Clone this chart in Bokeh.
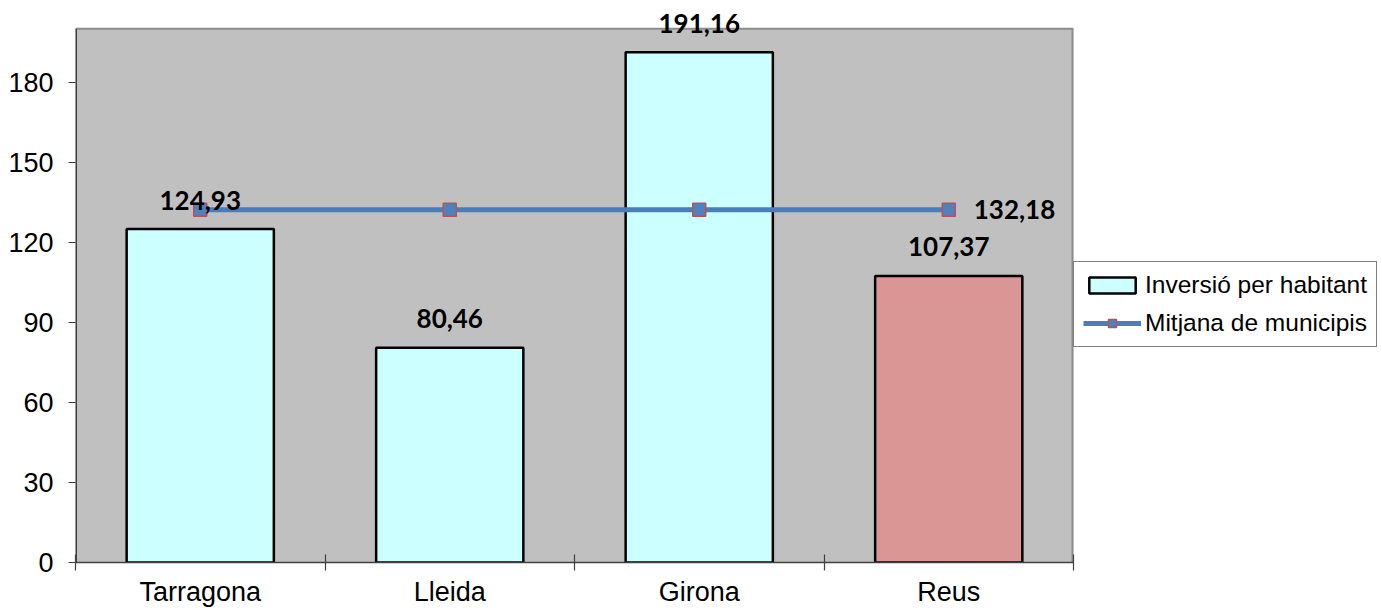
from bokeh.plotting import figure
from bokeh.models import (ColumnDataSource, FixedTicker, Range1d, Legend, LegendItem, LabelSet)
from bokeh.core.properties import value
from bokeh.embed import file_html
from bokeh.resources import INLINE

# ---- data ----
categories = ["Tarragona", "Lleida", "Girona", "Reus"]
inversio = [124.93, 80.46, 191.16, 107.37]
mitjana = [132.18, 132.18, 132.18, 132.18]
bar_colors = ["#ccffff", "#ccffff", "#ccffff", "#d99694"]
y_ticks = [0, 30, 60, 90, 120, 150, 180]
plot_top = 200

n = len(categories)
xs = [i + 0.5 for i in range(n)]
fmt = lambda v: f"{v:.2f}".replace(".", ",")

bar_src = ColumnDataSource(dict(x=xs, top=inversio, color=bar_colors,
                                label=[fmt(v) for v in inversio]))
line_src = ColumnDataSource(dict(x=xs, y=mitjana))
last_src = ColumnDataSource(dict(x=[xs[-1]], y=[mitjana[-1]], label=[fmt(mitjana[-1])]))

p = figure(frame_width=998, frame_height=558, output_backend="svg", toolbar_location=None,
           x_range=Range1d(0, n), y_range=Range1d(0, 209.1),
           min_border_left=75, min_border_right=0, min_border_top=4, min_border_bottom=40)

p.background_fill_color = "white"
p.border_fill_color = "white"
p.outline_line_color = None
p.xgrid.visible = False
p.ygrid.visible = False

# plot area (grey) with its borders
p.quad(left=[0], right=[n], bottom=[0], top=[plot_top], fill_color="#c0c0c0", line_color=None)
p.segment(x0=[0], y0=[plot_top], x1=[n], y1=[plot_top], line_color="#8c8c8c", line_width=2)
p.segment(x0=[n], y0=[0], x1=[n], y1=[plot_top], line_color="#8c8c8c", line_width=4)
p.segment(x0=[0], y0=[0], x1=[0], y1=[plot_top], line_color="#404040", line_width=3)

bars = p.vbar(x="x", top="top", width=0.59, bottom=0, source=bar_src,
              fill_color="color", line_color="black", line_width=2.5)
ln = p.line(x="x", y="y", source=line_src, line_color="#4a7ebb", line_width=5)
sc = p.scatter(x="x", y="y", source=line_src, marker="square", size=13,
               fill_color="#4f81bd", line_color="#c0504d", line_width=1.5)

p.add_layout(LabelSet(x="x", y="top", text="label", source=bar_src, text_align="center",
                      text_baseline="middle", y_offset=29, text_font=value("Lato"),
                      text_font_style="bold", text_font_size="26px", text_color="black"))
p.add_layout(LabelSet(x="x", y="y", text="label", source=last_src, text_align="left",
                      text_baseline="middle", x_offset=25, text_font=value("Lato"),
                      text_font_style="bold", text_font_size="26px", text_color="black"))

# y axis
ya = p.yaxis[0]
ya.ticker = FixedTicker(ticks=y_ticks, minor_ticks=[])
ya.axis_line_color = None
ya.major_tick_in = 0
ya.major_tick_out = 7
ya.major_tick_line_color = "#404040"
ya.major_tick_line_width = 1.2
ya.minor_tick_line_color = None
ya.major_label_text_font = "Liberation Sans"
ya.major_label_text_font_size = "27px"
ya.major_label_text_color = "black"
ya.major_label_standoff = 15

# x axis: labels at centers, ticks at boundaries (minor)
xa = p.xaxis[0]
xa.ticker = FixedTicker(ticks=xs, minor_ticks=list(range(n + 1)))
xa.major_label_overrides = {x: c for x, c in zip(xs, categories)}
xa.axis_line_color = "#404040"
xa.axis_line_width = 1.5
xa.major_tick_line_color = None
xa.major_tick_in = 0
xa.major_tick_out = 0
xa.minor_tick_line_color = "#404040"
xa.minor_tick_line_width = 1.2
xa.minor_tick_in = 8
xa.minor_tick_out = 8
xa.major_label_text_font = "Liberation Sans"
xa.major_label_text_font_size = "27px"
xa.major_label_text_color = "black"
xa.major_label_standoff = 6

legend = Legend(items=[LegendItem(label="Inversió per habitant", renderers=[bars], index=0),
                       LegendItem(label="Mitjana de municipis", renderers=[ln, sc])],
                location=(0, 215), orientation="vertical",
                border_line_color="black", border_line_width=1,
                background_fill_color="white", background_fill_alpha=1.0,
                label_text_font="Liberation Sans", label_text_font_size="24.5px",
                label_text_color="black", glyph_width=58, glyph_height=20,
                label_standoff=4, label_height=28, padding=9, spacing=10, margin=0)
p.add_layout(legend, "right")

open("out.html", "w").write(file_html(p, INLINE))
